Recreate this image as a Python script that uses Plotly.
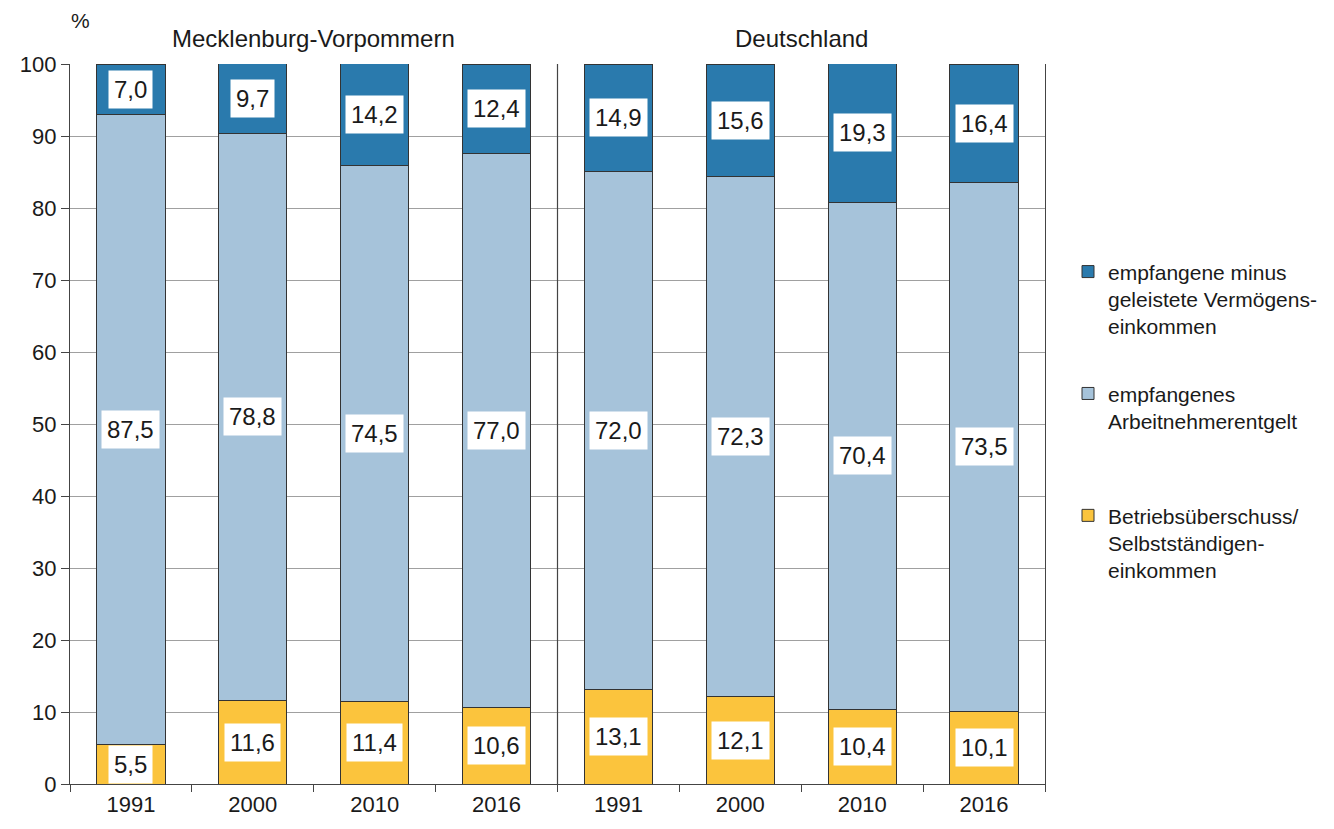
import plotly.graph_objects as go

regions = ["Mecklenburg-Vorpommern", "Deutschland"]
years = ["1991", "2000", "2010", "2016"]

betrieb = [5.5, 11.6, 11.4, 10.6, 13.1, 12.1, 10.4, 10.1]
arbeit = [87.5, 78.8, 74.5, 77.0, 72.0, 72.3, 70.4, 73.5]
vermoegen = [7.0, 9.7, 14.2, 12.4, 14.9, 15.6, 19.3, 16.4]

series_names = [
    "Betriebsüberschuss/<br>Selbstständigen-<br>einkommen",
    "empfangenes<br>Arbeitnehmerentgelt<br> ",
    "empfangene minus<br>geleistete Vermögens-<br>einkommen",
]
series_values = [betrieb, arbeit, vermoegen]
series_colors = ["#fbc43d", "#a6c3da", "#2a7aad"]
legend_ranks = [3, 2, 1]

cats = [f"{r} {y}" for r in regions for y in years]
ticktext = [y for r in regions for y in years]

FONT = "Liberation Sans, Arial, sans-serif"
TXT = "#1a1a1a"

fig = go.Figure()
for i, (name, vals, col) in enumerate(zip(series_names, series_values, series_colors)):
    fig.add_trace(go.Bar(
        x=cats, y=vals, name=name, legendgroup=f"g{i}",
        legendrank=legend_ranks[i],
        marker=dict(color=col, line=dict(color="#333333", width=1)),
        hoverinfo="skip",
    ))

annotations = []
base = [0.0] * len(cats)
for vals in series_values:
    for j, c in enumerate(cats):
        mid = base[j] + vals[j] / 2
        annotations.append(dict(
            x=c, y=mid, xref="x", yref="y",
            text=f"{vals[j]:.1f}".replace(".", ","),
            showarrow=False, bgcolor="white", borderpad=5,
            font=dict(family=FONT, size=24, color=TXT),
        ))
        base[j] += vals[j]

n = len(years)
for k, r in enumerate(regions):
    annotations.append(dict(
        x=k * n + (n - 1) / 2, y=1.035, xref="x", yref="paper",
        text=r, showarrow=False, yanchor="middle",
        font=dict(family=FONT, size=24, color=TXT),
    ))
annotations.append(dict(
    x=-0.001, y=1.06, xref="paper", yref="paper", text="%", showarrow=False,
    yanchor="middle", font=dict(family=FONT, size=21, color=TXT),
))

fig.add_shape(type="line", xref="x", yref="y", x0=n - 0.5, x1=n - 0.5,
              y0=0, y1=100, line=dict(color="#444444", width=1.2))

fig.update_layout(
    width=1326, height=821,
    margin=dict(l=61, r=289, t=56, b=34),
    paper_bgcolor="white", plot_bgcolor="white",
    barmode="stack", bargap=0.44,
    font=dict(family=FONT, color=TXT),
    annotations=annotations,
    legend=dict(
        x=1.0236, y=0.7397, xanchor="left", yanchor="top",
        traceorder="grouped", tracegroupgap=37, valign="top",
        font=dict(family=FONT, size=21, color=TXT),
        itemwidth=30,
    ),
    xaxis=dict(
        type="category", tickmode="array", tickvals=cats, ticktext=ticktext,
        tickson="boundaries", ticks="outside", ticklen=7, tickcolor="#444444",
        showline=True, linecolor="#444444", linewidth=1.2, showgrid=False,
        tickfont=dict(family=FONT, size=22, color=TXT),
    ),
    yaxis=dict(
        range=[0, 100], tickvals=list(range(0, 101, 10)),
        ticks="outside", ticklen=8, tickcolor="#444444",
        showline=True, mirror=True, linecolor="#444444", linewidth=1.2,
        showgrid=True, gridcolor="#a0a0a0", gridwidth=1,
        zeroline=False,
        tickfont=dict(family=FONT, size=22, color=TXT),
    ),
)

fig.write_html("out.html")
